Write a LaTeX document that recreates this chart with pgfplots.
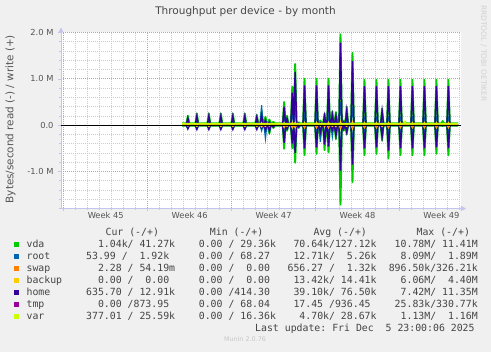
\documentclass[border=0pt]{standalone}
\usepackage{fontspec}
\setmainfont{DejaVu Sans}
\setmonofont{DejaVu Sans Mono}
\usepackage{pgfplots}
\pgfplotsset{compat=1.18}
\usepackage{pgfplotstable}
\usetikzlibrary{arrows.meta}
\definecolor{bgc}{HTML}{F0F0F0}
\definecolor{vdac}{HTML}{00CC00}
\definecolor{rootc}{HTML}{0066B3}
\definecolor{swapc}{HTML}{FF8000}
\definecolor{backupc}{HTML}{FFCC00}
\definecolor{homec}{HTML}{330099}
\definecolor{tmpc}{HTML}{990099}
\definecolor{varc}{HTML}{CCFF00}
\definecolor{axisc}{HTML}{C4C4EE}
\definecolor{majc}{HTML}{F09090}
\definecolor{minc}{HTML}{CCCCCC}
\definecolor{txtc}{HTML}{555555}
\definecolor{legc}{HTML}{444444}

% t, vda write/read, home w/r, root w/r, backup w/r, swap w/r  (values in MB/s)
\pgfplotstableread{
t vw vr hw hr rw rr bw br sw sr
9.87 0.04 -0.01 0.012 -0.004 0.002 -0.002 0 0 0 0
10.23 0.04 -0.01 0.012 -0.004 0.002 -0.002 0 0 0 0
10.35 0.20 -0.06 0.15 -0.08 0.05 -0.03 0.02 -0.02 0.01 -0.01
10.47 0.04 -0.01 0.012 -0.004 0.002 -0.002 0 0 0 0
10.98 0.04 -0.01 0.012 -0.004 0.002 -0.002 0 0 0 0
11.10 0.25 -0.08 0.19 -0.09 0.06 -0.04 0.03 -0.03 0.01 -0.01
11.22 0.04 -0.01 0.012 -0.004 0.002 -0.002 0 0 0 0
11.98 0.04 -0.01 0.012 -0.004 0.002 -0.002 0 0 0 0
12.10 0.25 -0.08 0.19 -0.09 0.06 -0.04 0.03 -0.03 0.01 -0.01
12.22 0.04 -0.01 0.012 -0.004 0.002 -0.002 0 0 0 0
12.98 0.04 -0.01 0.012 -0.004 0.002 -0.002 0 0 0 0
13.10 0.25 -0.08 0.19 -0.09 0.06 -0.04 0.03 -0.03 0.01 -0.01
13.22 0.04 -0.01 0.012 -0.004 0.002 -0.002 0 0 0 0
13.98 0.04 -0.01 0.012 -0.004 0.002 -0.002 0 0 0 0
14.10 0.25 -0.08 0.19 -0.09 0.06 -0.04 0.03 -0.03 0.01 -0.01
14.22 0.04 -0.01 0.012 -0.004 0.002 -0.002 0 0 0 0
14.98 0.04 -0.01 0.012 -0.004 0.002 -0.002 0 0 0 0
15.10 0.25 -0.08 0.19 -0.09 0.06 -0.04 0.03 -0.03 0.01 -0.01
15.22 0.04 -0.01 0.012 -0.004 0.002 -0.002 0 0 0 0
15.98 0.04 -0.01 0.012 -0.004 0.002 -0.002 0 0 0 0
16.10 0.22 -0.08 0.17 -0.09 0.08 -0.05 0.03 -0.03 0.01 -0.01
16.22 0.04 -0.01 0.012 -0.004 0.002 -0.002 0 0 0 0
16.38 0.04 -0.01 0.012 -0.004 0.002 -0.002 0 0 0 0
16.50 0.30 -0.08 0.20 -0.06 0.43 -0.12 0.05 -0.04 0.01 -0.01
16.62 0.04 -0.01 0.012 -0.004 0.002 -0.002 0 0 0 0
16.70 0.04 -0.01 0.012 -0.004 0.002 -0.002 0 0 0 0
16.82 0.18 -0.12 0.10 -0.10 0.12 -0.29 0.03 -0.03 0.01 -0.01
16.94 0.04 -0.01 0.012 -0.004 0.002 -0.002 0 0 0 0
17.03 0.04 -0.01 0.012 -0.004 0.002 -0.002 0 0 0 0
17.15 0.12 -0.18 0.06 -0.12 0.08 -0.15 0.02 -0.02 0 0
17.27 0.04 -0.01 0.012 -0.004 0.002 -0.002 0 0 0 0
17.36 0.04 -0.01 0.012 -0.004 0.002 -0.002 0 0 0 0
17.48 0.07 -0.06 0.04 -0.04 0.03 -0.03 0 0 0 0
17.60 0.04 -0.01 0.012 -0.004 0.002 -0.002 0 0 0 0
18.26 0.04 -0.01 0.012 -0.004 0.002 -0.002 0 0 0 0
18.38 0.50 -0.51 0.40 -0.38 0.20 -0.25 0.05 -0.05 0.02 -0.02
18.50 0.04 -0.01 0.012 -0.004 0.002 -0.002 0 0 0 0
18.62 0.20 -0.12 0.14 -0.08 0.08 -0.06 0.03 -0.03 0 0
18.74 0.04 -0.01 0.012 -0.004 0.002 -0.002 0 0 0 0
18.94 0.04 -0.01 0.012 -0.004 0.002 -0.002 0 0 0 0
19.06 0.83 -0.50 0.70 -0.40 0.30 -0.30 0.06 -0.06 0.02 -0.03
19.18 0.04 -0.01 0.012 -0.004 0.002 -0.002 0 0 0 0
19.30 1.32 -0.81 1.15 -0.60 0.40 -0.40 0.06 -0.06 0.02 -0.03
19.42 0.04 -0.01 0.012 -0.004 0.002 -0.002 0 0 0 0
19.50 0.04 -0.01 0.012 -0.004 0.002 -0.002 0 0 0 0
19.60 0.06 -0.06 0.04 -0.04 0.02 -0.02 0 0 0 0
19.70 0.04 -0.01 0.012 -0.004 0.002 -0.002 0 0 0 0
19.96 0.04 -0.01 0.012 -0.004 0.002 -0.002 0 0 0 0
20.08 1.00 -0.65 0.86 -0.50 0.20 -0.20 0.06 -0.06 0.03 -0.04
20.20 0.04 -0.01 0.012 -0.004 0.002 -0.002 0 0 0 0
20.96 0.04 -0.01 0.012 -0.004 0.002 -0.002 0 0 0 0
21.08 1.00 -0.62 0.86 -0.48 0.20 -0.20 0.06 -0.06 0.03 -0.04
21.20 0.04 -0.01 0.012 -0.004 0.002 -0.002 0 0 0 0
21.28 0.04 -0.01 0.012 -0.004 0.002 -0.002 0 0 0 0
21.40 0.10 -0.25 0.05 -0.15 0.05 -0.36 0.02 -0.02 0 0
21.52 0.04 -0.01 0.012 -0.004 0.002 -0.002 0 0 0 0
21.63 0.04 -0.01 0.012 -0.004 0.002 -0.002 0 0 0 0
21.75 0.25 -0.54 0.20 -0.42 0.10 -0.30 0.03 -0.03 0 0
21.87 0.04 -0.01 0.012 -0.004 0.002 -0.002 0 0 0 0
21.96 0.04 -0.01 0.012 -0.004 0.002 -0.002 0 0 0 0
22.08 1.00 -0.59 0.86 -0.46 0.20 -0.20 0.06 -0.06 0.03 -0.04
22.20 0.04 -0.01 0.012 -0.004 0.002 -0.002 0 0 0 0
22.28 0.04 -0.01 0.012 -0.004 0.002 -0.002 0 0 0 0
22.40 0.30 -0.15 0.22 -0.10 0.10 -0.25 0.03 -0.03 0 0
22.52 0.04 -0.01 0.012 -0.004 0.002 -0.002 0 0 0 0
22.58 0.04 -0.01 0.012 -0.004 0.002 -0.002 0 0 0 0
22.70 0.28 -0.30 0.20 -0.22 0.10 -0.20 0.03 -0.03 0 0
22.82 0.04 -0.01 0.012 -0.004 0.002 -0.002 0 0 0 0
22.96 0.04 -0.01 0.012 -0.004 0.002 -0.002 0 0 0 0
23.08 1.96 -1.72 1.78 -0.98 0.50 -0.60 0.08 -0.08 0.03 -0.05
23.20 0.04 -0.01 0.012 -0.004 0.002 -0.002 0 0 0 0
23.25 0.04 -0.01 0.012 -0.004 0.002 -0.002 0 0 0 0
23.35 0.10 -0.12 0.06 -0.08 0.03 -0.04 0 0 0 0
23.45 0.04 -0.01 0.012 -0.004 0.002 -0.002 0 0 0 0
23.48 0.04 -0.01 0.012 -0.004 0.002 -0.002 0 0 0 0
23.60 0.40 -0.20 0.30 -0.15 0.10 -0.08 0.03 -0.03 0 0
23.72 0.04 -0.01 0.012 -0.004 0.002 -0.002 0 0 0 0
23.96 0.04 -0.01 0.012 -0.004 0.002 -0.002 0 0 0 0
24.08 1.56 -1.23 1.38 -0.85 0.40 -0.40 0.08 -0.08 0.03 -0.05
24.20 0.04 -0.01 0.012 -0.004 0.002 -0.002 0 0 0 0
24.96 0.04 -0.01 0.012 -0.004 0.002 -0.002 0 0 0 0
25.08 0.98 -0.65 0.84 -0.50 0.15 -0.15 0.06 -0.06 0.03 -0.04
25.20 0.04 -0.01 0.012 -0.004 0.002 -0.002 0 0 0 0
25.96 0.04 -0.01 0.012 -0.004 0.002 -0.002 0 0 0 0
26.08 0.98 -0.62 0.84 -0.48 0.15 -0.15 0.06 -0.06 0.03 -0.04
26.20 0.04 -0.01 0.012 -0.004 0.002 -0.002 0 0 0 0
26.43 0.04 -0.01 0.012 -0.004 0.002 -0.002 0 0 0 0
26.55 0.36 -0.33 0.30 -0.25 0.08 -0.08 0.03 -0.03 0 0
26.67 0.04 -0.01 0.012 -0.004 0.002 -0.002 0 0 0 0
26.96 0.04 -0.01 0.012 -0.004 0.002 -0.002 0 0 0 0
27.08 0.98 -0.72 0.84 -0.55 0.15 -0.15 0.06 -0.06 0.03 -0.04
27.20 0.04 -0.01 0.012 -0.004 0.002 -0.002 0 0 0 0
27.96 0.04 -0.01 0.012 -0.004 0.002 -0.002 0 0 0 0
28.08 0.98 -0.65 0.84 -0.50 0.15 -0.15 0.06 -0.06 0.03 -0.04
28.20 0.04 -0.01 0.012 -0.004 0.002 -0.002 0 0 0 0
28.35 0.04 -0.01 0.012 -0.004 0.002 -0.002 0 0 0 0
28.45 0.07 -0.01 0.02 -0.004 0.002 -0.002 0 0 0 0
28.55 0.04 -0.01 0.012 -0.004 0.002 -0.002 0 0 0 0
28.96 0.04 -0.01 0.012 -0.004 0.002 -0.002 0 0 0 0
29.08 0.98 -0.65 0.84 -0.50 0.15 -0.15 0.06 -0.06 0.03 -0.04
29.20 0.04 -0.01 0.012 -0.004 0.002 -0.002 0 0 0 0
29.96 0.04 -0.01 0.012 -0.004 0.002 -0.002 0 0 0 0
30.08 0.98 -0.65 0.84 -0.50 0.15 -0.15 0.06 -0.06 0.03 -0.04
30.20 0.04 -0.01 0.012 -0.004 0.002 -0.002 0 0 0 0
30.96 0.04 -0.01 0.012 -0.004 0.002 -0.002 0 0 0 0
31.08 0.98 -0.62 0.84 -0.48 0.15 -0.15 0.06 -0.06 0.03 -0.04
31.20 0.04 -0.01 0.012 -0.004 0.002 -0.002 0 0 0 0
31.50 0.04 -0.01 0.012 -0.004 0.002 -0.002 0 0 0 0
31.60 0.09 -0.02 0.03 -0.01 0.002 -0.002 0 0 0 0
31.70 0.04 -0.01 0.012 -0.004 0.002 -0.002 0 0 0 0
31.96 0.04 -0.01 0.012 -0.004 0.002 -0.002 0 0 0 0
32.08 0.98 -0.65 0.84 -0.50 0.15 -0.15 0.06 -0.06 0.03 -0.04
32.20 0.04 -0.01 0.012 -0.004 0.002 -0.002 0 0 0 0
32.90 0.04 -0.01 0.012 -0.004 0.002 -0.002 0 0 0 0
}\disk

\pgfplotstableread{
t w r
9.87 0.03 -0.005
28.38 0.03 -0.005
28.45 0.07 -0.005
28.52 0.03 -0.005
32.90 0.03 -0.005
}\varv

\newcommand{\legfont}{\ttfamily\fontsize{9.85}{12}\selectfont}
\newcommand{\legrow}[7]{%
  \pgfmathsetmacro{\by}{352-247.7-12*#1}%
  \fill[#3] (14pt,\by pt+0.7pt) rectangle (19pt,\by pt+5.4pt);
  \node[anchor=base west, inner sep=0, font=\legfont, text=legc] at (26.4pt,\by pt) {#2};
  \node[anchor=base west, inner sep=0, font=\legfont, text=legc] at (86.0pt,\by pt) {#4};
  \node[anchor=base west, inner sep=0, font=\legfont, text=legc] at (186.8pt,\by pt) {#5};
  \node[anchor=base west, inner sep=0, font=\legfont, text=legc] at (287.4pt,\by pt) {#6};
  \node[anchor=base west, inner sep=0, font=\legfont, text=legc] at (388.6pt,\by pt) {#7};
}

\begin{document}
\begin{tikzpicture}[x=1pt,y=1pt]
\useasboundingbox (0,0) rectangle (491,352);
\fill[bgc] (0,0) rectangle (491,352);
\begin{axis}[
  at={(61pt,143.5pt)}, anchor=south west,
  width=400pt, height=176pt, scale only axis,
  xmin=-0.23, xmax=33.13, ymin=-1.8, ymax=2.0,
  axis background/.style={fill=white},
  axis lines=left,
  axis line style={draw=axisc, line width=0.8pt, -{Triangle[width=5pt,length=5pt]}, shorten >=-5pt},
  tick align=outside,
  tick style={draw=axisc, line width=0.6pt},
  major tick length=3pt, minor tick length=2pt,
  xtick={0,7,14,21,28}, xticklabels={{},{},{},{},{}},
  minor xtick={1,2,3,4,5,6,8,9,10,11,12,13,15,16,17,18,19,20,22,23,24,25,26,27,29,30,31,32,33},
  extra x ticks={3.5,10.5,17.5,24.5,31.5},
  extra x tick labels={Week 45,Week 46,Week 47,Week 48,Week 49},
  extra x tick style={grid=none, major tick length=0pt},
  ytick={-1,0,1,2},
  yticklabels={-1.0 M,0.0,1.0 M,2.0 M},
  minor ytick={-1.8,-1.6,-1.4,-1.2,-0.8,-0.6,-0.4,-0.2,0.2,0.4,0.6,0.8,1.2,1.4,1.6,1.8},
  grid=both,
  major grid style={draw=majc, line width=0.7pt, dash pattern=on 1pt off 1pt},
  minor grid style={draw=minc, line width=0.7pt, dash pattern=on 1pt off 1pt},
  ticklabel style={font=\fontsize{8.3}{10}\selectfont, text=txtc},
  yticklabel style={xshift=-1pt},
  xticklabel style={yshift=-0.5pt},
  /pgf/number format/assume math mode=true,
  clip=true,
]
\addplot[vdac, line width=1.9pt, line join=round] table[x=t, y=vw] {\disk};
\addplot[vdac, line width=1.9pt, line join=round] table[x=t, y=vr] {\disk};
\addplot[rootc, line width=1.2pt] table[x=t, y=rw] {\disk};
\addplot[rootc, line width=1.2pt] table[x=t, y=rr] {\disk};
\addplot[homec, line width=1.5pt] table[x=t, y=hw] {\disk};
\addplot[homec, line width=1.5pt] table[x=t, y=hr] {\disk};
\addplot[backupc, line width=1pt] table[x=t, y=bw] {\disk};
\addplot[backupc, line width=1pt] table[x=t, y=br] {\disk};
\addplot[swapc, line width=0.8pt] table[x=t, y=sw] {\disk};
\addplot[swapc, line width=0.8pt] table[x=t, y=sr] {\disk};
\addplot[varc, line width=1pt] table[x=t, y=r] {\varv};
\addplot[black, line width=1pt] coordinates {(-0.23,0) (33.13,0)};
\addplot[varc, line width=1.6pt] table[x=t, y=w] {\varv};
\end{axis}

\node[anchor=base, font=\fontsize{10.5}{12}\selectfont, text=black!72] at (245.5,337) {Throughput per device - by month};
\node[rotate=90, font=\fontsize{10.4}{12}\selectfont, text=txtc] at (10.5,232.8) {Bytes/second read (-) / write (+)};
\node[rotate=-90, anchor=west, inner sep=0, font=\fontsize{7.5}{8}\selectfont, text=black!18] at (483.5,347) {RRDTOOL / TOBI OETIKER};

\node[anchor=base west, inner sep=0, font=\legfont, text=legc] at (105.4,116.3) {Cur~(-/+)};
\node[anchor=base west, inner sep=0, font=\legfont, text=legc] at (209.7,116.3) {Min~(-/+)};
\node[anchor=base west, inner sep=0, font=\legfont, text=legc] at (313.3,116.3) {Avg~(-/+)};
\node[anchor=base west, inner sep=0, font=\legfont, text=legc] at (416.4,116.3) {Max~(-/+)};

\legrow{0}{vda}{vdac}{~~1.04k/~41.27k}{~~0.00~/~29.36k}{~70.64k/127.12k}{~10.78M/~11.41M}
\legrow{1}{root}{rootc}{53.99~/~~1.92k}{~~0.00~/~68.27}{~12.71k/~~5.26k}{~~8.09M/~~1.89M}
\legrow{2}{swap}{swapc}{~~2.28~/~54.19m}{~~0.00~/~~0.00}{656.27~/~~1.32k}{896.50k/326.21k}
\legrow{3}{backup}{backupc}{~~0.00~/~~0.00}{~~0.00~/~~0.00}{~13.42k/~14.41k}{~~6.06M/~~4.40M}
\legrow{4}{home}{homec}{635.70~/~12.91k}{~~0.00~/414.30}{~39.10k/~76.50k}{~~7.42M/~11.35M}
\legrow{5}{tmp}{tmpc}{~~0.00~/873.95}{~~0.00~/~68.04}{~17.45~/936.45}{~25.83k/330.77k}
\legrow{6}{var}{varc}{377.01~/~25.59k}{~~0.00~/~16.36k}{~~4.70k/~28.67k}{~~1.13M/~~1.16M}

\node[anchor=base west, inner sep=0, font=\legfont, text=legc] at (255.0,20.3) {Last~update:~Fri~Dec~~5~23:00:06~2025};
\node[anchor=base, font=\fontsize{6.4}{8}\selectfont, text=black!22] at (245,10) {Munin 2.0.76};
\end{tikzpicture}
\end{document}
